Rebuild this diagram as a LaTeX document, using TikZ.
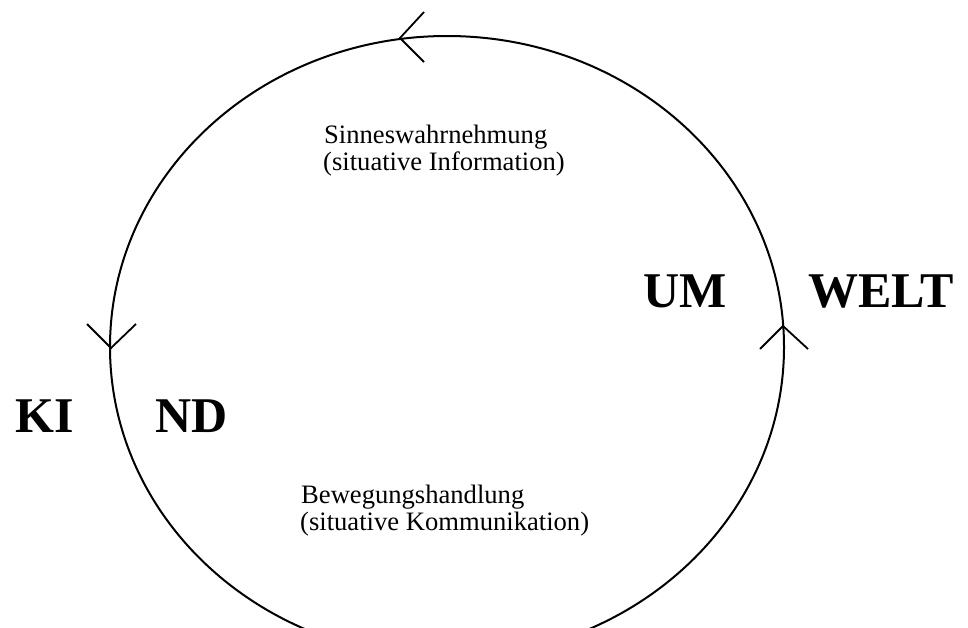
\documentclass[tikz,border=0pt]{standalone}
\usepackage{fontspec}
\setmainfont{Liberation Serif}
\begin{document}
\begin{tikzpicture}[x=1pt,y=-1pt,
  cycle/.style={line width=2pt},
  chevron/.style={line width=1.8pt},
  caption/.style={anchor=base west,inner sep=0pt,font=\fontsize{26.6}{27}\selectfont},
  bigword/.style={anchor=base west,inner sep=0pt,font=\fontsize{50}{52}\selectfont\bfseries}]
  \useasboundingbox (0,0) rectangle (968,627);
  \begin{scope}
    \clip (0,0) rectangle (968,627);
    % the action cycle between child and environment
    \draw[cycle] (447,347) ellipse [x radius=337, y radius=311];
  \end{scope}
  % direction marks on the cycle
  \coordinate (tiptop) at (400,38);
  \coordinate (tipleft) at (111,348);
  \coordinate (tipright) at (783,326);
  \draw[chevron] ([shift={(24,-26)}]tiptop) -- (tiptop) -- ([shift={(24,24)}]tiptop);
  \draw[chevron] ([shift={(-24,-24)}]tipleft) -- (tipleft) -- ([shift={(25,-24)}]tipleft);
  \draw[chevron] ([shift={(-23,23)}]tipright) -- (tipright) -- ([shift={(25,23)}]tipright);
  % labels
  \node[caption] (sinnesA) at (324,143) {Sinneswahrnehmung};
  \node[caption] (sinnesB) at (323,170) {(situative Information)};
  \node[caption] (bewegA) at (301,503) {Bewegungshandlung};
  \node[caption] (bewegB) at (300,530) {(situative Kommunikation)};
  \node[bigword] (um) at (643,307) {UM};
  \node[bigword] (welt) at (808,307) {WELT};
  \node[bigword] (ki) at (15,432) {KI};
  \node[bigword] (nd) at (155,432) {ND};
\end{tikzpicture}
\end{document}
